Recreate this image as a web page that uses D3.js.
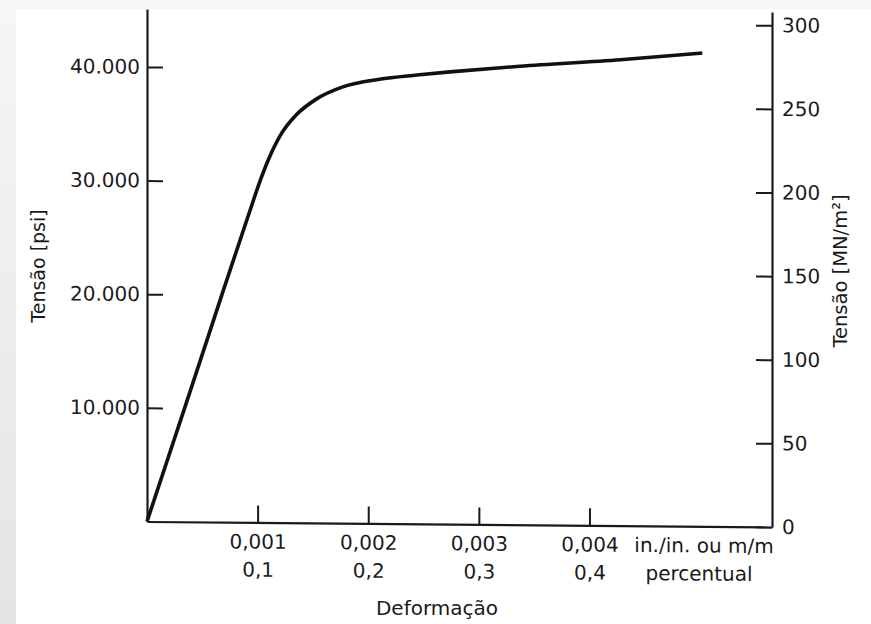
<!DOCTYPE html>
<html>
<head>
<meta charset="utf-8">
<script src="https://cdn.jsdelivr.net/npm/d3@7"></script>
<style>
  body { margin: 0; background: #fff; }
  svg { display: block; }
</style>
</head>
<body>
<script>
// curve: strain (in./in.) vs stress (psi)
var strain = [0, 0.00034, 0.00067, 0.00095, 0.00102, 0.0011, 0.0012, 0.00135, 0.00153,
              0.00177, 0.0021, 0.00244, 0.00274, 0.00337, 0.00428, 0.00502];
var psi = [0, 10000, 19800, 28000, 30000, 32000, 34000, 35900, 37300,
           38400, 39100, 39500, 39800, 40350, 41000, 41650];

var psiTicks = [10000, 20000, 30000, 40000];
var psiTickLabels = ["10.000", "20.000", "30.000", "40.000"];
var mpaTicks = [0, 50, 100, 150, 200, 250, 300];
var strainTicks = [0.001, 0.002, 0.003, 0.004];
var strainLabels = ["0,001", "0,002", "0,003", "0,004"];
var percentLabels = ["0,1", "0,2", "0,3", "0,4"];

var W = 871, H = 624;
var ink = "#1a1a1a";
var font = "DejaVu Sans";

var svg = d3.select("body").append("svg")
    .attr("width", W)
    .attr("height", H);

// scan border
var defs = svg.append("defs");
var grad = defs.append("linearGradient")
    .attr("id", "edge")
    .attr("x1", 0).attr("y1", 0).attr("x2", 0).attr("y2", 1);
grad.append("stop").attr("offset", "0%").attr("stop-color", "#f6f6f6");
grad.append("stop").attr("offset", "100%").attr("stop-color", "#e4e4e4");

svg.append("rect").attr("width", W).attr("height", H).attr("fill", "#fff");
svg.append("rect").attr("width", W).attr("height", 9).attr("fill", "#f7f7f7");
svg.append("rect").attr("width", 16).attr("height", H).attr("fill", "url(#edge)");

// plot frame (the scan is slightly skewed)
var g = svg.append("g")
    .attr("transform", "translate(147,521.5) skewY(0.5)");

var x = d3.scaleLinear().domain([0, 0.00565]).range([0, 625]);
var yL = d3.scaleLinear().domain([0, 45100]).range([0, -512.5]);
var yR = d3.scaleLinear().domain([0, 308]).range([0, -515]);

function styleAxis(sel) {
    sel.attr("font-family", font).attr("font-size", 20);
    sel.selectAll("path.domain").attr("stroke", ink).attr("stroke-width", 2.2);
    sel.selectAll(".tick line").attr("stroke", ink).attr("stroke-width", 2);
    sel.selectAll(".tick text").attr("fill", ink);
}

var leftAxis = g.append("g")
    .call(d3.axisLeft(yL)
        .tickValues(psiTicks)
        .tickFormat(function(d, i) { return psiTickLabels[i]; })
        .tickSizeInner(-16)
        .tickSizeOuter(0)
        .tickPadding(7));
styleAxis(leftAxis);

var rightAxis = g.append("g")
    .attr("transform", "translate(" + x.range()[1] + ",0)")
    .call(d3.axisRight(yR)
        .tickValues(mpaTicks)
        .tickSizeInner(-16)
        .tickSizeOuter(0)
        .tickPadding(10));
styleAxis(rightAxis);

var bottomAxis = g.append("g")
    .call(d3.axisBottom(x)
        .tickValues(strainTicks)
        .tickSizeInner(-17)
        .tickSizeOuter(0)
        .tickPadding(12));
styleAxis(bottomAxis);

bottomAxis.selectAll(".tick text")
    .text(null)
    .each(function(d, i) {
        var t = d3.select(this);
        t.append("tspan").attr("x", 0).text(strainLabels[i]);
        t.append("tspan").attr("x", 0).attr("dy", "1.4em").text(percentLabels[i]);
    });

// unit note at the end of the strain axis
var unit = g.append("text")
    .attr("y", 12)
    .attr("dy", "0.71em")
    .attr("font-family", font)
    .attr("font-size", 20)
    .attr("fill", ink)
    .attr("text-anchor", "middle");
unit.append("tspan").attr("x", 557).text("in./in. ou m/m");
unit.append("tspan").attr("x", 552).attr("dy", "1.4em").text("percentual");

// stress-strain curve
var line = d3.line()
    .x(function(d) { return x(d[0]); })
    .y(function(d) { return yL(d[1]); })
    .curve(d3.curveMonotoneX);

g.append("path")
    .datum(d3.zip(strain, psi))
    .attr("d", line)
    .attr("fill", "none")
    .attr("stroke", "#111")
    .attr("stroke-width", 3.6)
    .attr("stroke-linejoin", "round");

// titles
svg.append("text")
    .attr("transform", "translate(45,266) rotate(-90)")
    .attr("text-anchor", "middle")
    .attr("font-family", font)
    .attr("font-size", 19)
    .attr("fill", ink)
    .text("Tensão [psi]");

svg.append("text")
    .attr("transform", "translate(847,271) rotate(-90)")
    .attr("text-anchor", "middle")
    .attr("font-family", font)
    .attr("font-size", 19.5)
    .attr("fill", ink)
    .text("Tensão [MN/m²]");

svg.append("text")
    .attr("x", 437)
    .attr("y", 615)
    .attr("text-anchor", "middle")
    .attr("font-family", font)
    .attr("font-size", 20)
    .attr("fill", ink)
    .text("Deformação");
</script>
</body>
</html>
